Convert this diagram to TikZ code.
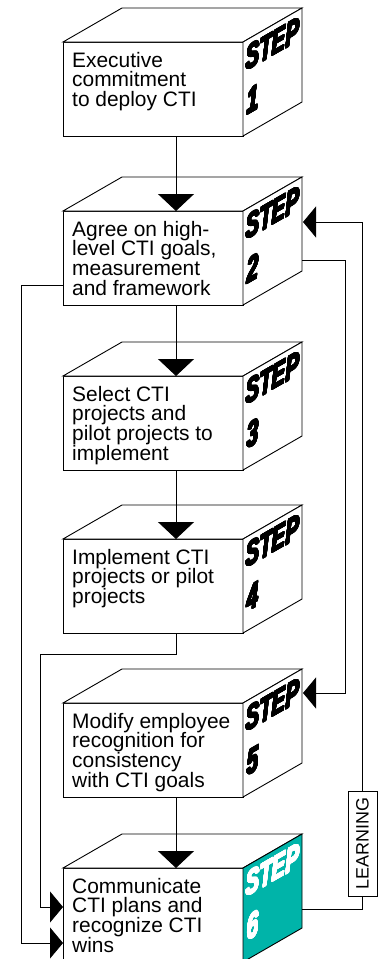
\documentclass[tikz,border=0pt]{standalone}
\usepackage{fontspec}
\usepackage{contour}
\setmainfont{Liberation Sans}
\newfontfamily\stepfont{Liberation Sans}
\usetikzlibrary{arrows.meta,calc}
\definecolor{stepteal}{HTML}{00B4A9}
\contourlength{0.9bp}
\contournumber{24}

\tikzset{
  face/.style={draw=black, line width=0.9bp, fill=white, line join=miter},
  front/.style={face, rectangle, minimum width=180bp, minimum height=94bp,
    anchor=north west, inner sep=0pt, outer sep=0pt},
  body/.style={anchor=north west, inner sep=0pt, align=left,
    font=\fontsize{21}{20}\selectfont},
  steplbl/.style={anchor=base west, inner sep=0pt, yslant=0.576, xscale=0.6,
    font=\stepfont\bfseries\itshape\fontsize{34}{34}\selectfont},
  numlbl/.style={steplbl, font=\stepfont\bfseries\itshape\fontsize{35}{35}\selectfont},
  link/.style={draw=black, line width=0.9bp},
  downtip/.style={-{Triangle[length=17bp,width=36bp]}},
  sidetip/.style={-{Triangle[length=13bp,width=31bp]}},
  learnbox/.style={draw=black, line width=0.9bp, rotate=90, minimum width=105bp,
    minimum height=29bp, inner sep=0pt, font=\fontsize{18}{18}\selectfont},
}

% one step block: name, top of front face, body text, number, side fill, label colour
\newcommand\stepcube[6]{%
  \node[front] (#1) at (63,#2) {};
  \coordinate (#1-in) at ($(#1.north west)+(113,0)$);
  \coordinate (#1-out) at ($(#1.south west)+(113,0)$);
  \coordinate (#1-bt) at ($(#1.north east)+(59,-34)$);
  \coordinate (#1-bb) at ($(#1.south east)+(59,-34)$);
  \draw[face] (#1.north west) -- ++(59,-34) -- (#1-bt) -- (#1.north east) -- cycle;
  \draw[face, fill=#5] (#1.north east) -- (#1-bt) -- (#1-bb) -- (#1.south east) -- cycle;
  \node[body] (#1-txt) at ($(#1.north west)+(9,9.7)$) {#3};
  \node[steplbl, text=#6] (#1-step) at ($(#1.north east)+(3,29)$) {\contour{#6}{STEP}};
  \node[numlbl, text=#6] (#1-num) at ($(#1.north east)+(4,73)$) {\contour{#6}{#4}};
}

\begin{document}
\begin{tikzpicture}[x=1bp, y=-1bp]
\useasboundingbox (0,0) rectangle (378,959);
\clip (0,0) rectangle (378,959);

\stepcube{s1}{42}{Executive\\commitment\\to deploy CTI}{1}{white}{black}
\stepcube{s2}{211}{Agree on high-\\level CTI goals,\\measurement\\and framework}{2}{white}{black}
\stepcube{s3}{376}{Select CTI\\projects and\\pilot projects to\\implement}{3}{white}{black}
\stepcube{s4}{539}{Implement CTI\\projects or pilot\\projects}{4}{white}{black}
\stepcube{s5}{703}{Modify employee\\recognition for\\consistency\\with CTI goals}{5}{white}{black}
\stepcube{s6}{868}{Communicate\\CTI plans and\\recognize CTI\\wins}{6}{stepteal}{white}

\node[learnbox] (learn) at (362.5,843.5) {LEARNING};

% main flow
\draw[link, downtip] (s1-out) -- (s2-in);
\draw[link, downtip] (s2-out) -- (s3-in);
\draw[link, downtip] (s3-out) -- (s4-in);
\draw[link, downtip] (s5-out) -- (s6-in);

% left returns into step 6
\coordinate (l2) at ($(s2.north west)+(0,74)$);
\coordinate (l6a) at ($(s6.north west)+(0,39)$);
\coordinate (l6b) at ($(s6.north west)+(0,75)$);
\draw[link, sidetip] (l2) -- ++(-42,0) |- (l6b);
\draw[link, sidetip] (s4-out) -- ++(0,21) -- ++(-136,0) |- (l6a);

% right loops
\coordinate (r2out) at ($(s2-bt)+(0,83)$);
\coordinate (r2in) at ($(s2-bt)+(1,45)$);
\coordinate (r5in) at ($(s5-bt)+(1,24)$);
\coordinate (r6out) at ($(s6-bt)+(0,75)$);
\draw[link, sidetip] (r2out) -- ++(43,0) |- (r5in);
\draw[link] (r6out) -| (learn.west);
\draw[link, sidetip] (learn.east) |- (r2in);
\end{tikzpicture}
\end{document}
